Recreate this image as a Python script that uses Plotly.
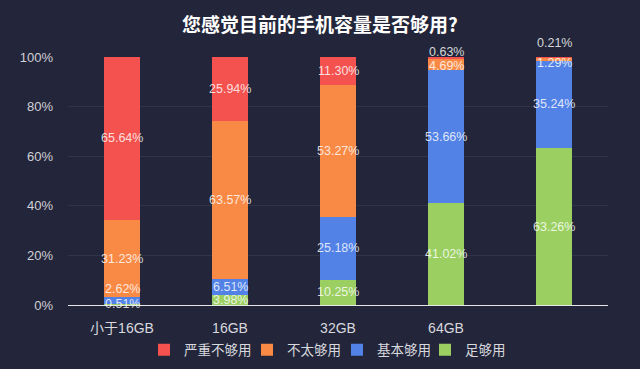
import plotly.graph_objects as go

categories = ["小于16GB", "16GB", "32GB", "64GB", " "]
series_names = ["严重不够用", "不太够用", "基本够用", "足够用"]
severe = [65.64, 25.94, 11.30, 0.63, 0.21]
not_enough = [31.23, 63.57, 53.27, 4.69, 1.29]
basic = [2.62, 6.51, 25.18, 53.66, 35.24]
enough = [0.51, 3.98, 10.25, 41.02, 63.26]
y_ticks = [0, 20, 40, 60, 80, 100]
y_tick_labels = ["0%", "20%", "40%", "60%", "80%", "100%"]

colors = {"严重不够用": "#f3524f", "不太够用": "#f88a46", "基本够用": "#5282e6", "足够用": "#9bcf62"}
BG = "#23263a"
FONT = "Liberation Sans, Noto Sans CJK SC, sans-serif"

# stacking order bottom -> top
stack = [("足够用", enough), ("基本够用", basic), ("不太够用", not_enough), ("严重不够用", severe)]
legend_ids = {"严重不够用": "legend", "不太够用": "legend2", "基本够用": "legend3", "足够用": "legend4"}
legend_x = {"legend": 164, "legend2": 267, "legend3": 357, "legend4": 445}  # symbol centre, px

fig = go.Figure()
for name, vals in stack:
    fig.add_trace(go.Bar(
        x=categories, y=vals, name=name,
        marker=dict(color=colors[name], line=dict(width=0)),
        legend=legend_ids[name],
        hovertemplate="%{x} " + name + ": %{y:.2f}%<extra></extra>",
    ))

# label nudges (pixels) for crowded tiny segments
nudge = {("基本够用", 0): 11, ("严重不够用", 3): 6, ("不太够用", 3): -2,
         ("严重不够用", 4): 14, ("不太够用", 4): -4}

annotations = []
cum = [0.0] * len(categories)
for name, vals in stack:
    for i, v in enumerate(vals):
        mid = cum[i] + v / 2
        cum[i] += v
        annotations.append(dict(
            x=categories[i], y=mid, xref="x", yref="y",
            text=f"{v:.2f}%", showarrow=False,
            yshift=nudge.get((name, i), 0),
            font=dict(family=FONT, size=12.5, color="rgba(255,255,255,0.82)"),
        ))

legend_common = dict(orientation="h", xref="container", yref="container",
                     xanchor="left", yanchor="middle", y=1 - 350 / 369,
                     font=dict(family=FONT, size=13.5, color="#d8d8de"),
                     itemwidth=30, bgcolor="rgba(0,0,0,0)", borderwidth=0)
legends = {}
for lid, px in legend_x.items():
    legends[lid] = dict(legend_common, x=(px - 20) / 640)

fig.update_layout(
    width=640, height=369,
    paper_bgcolor=BG, plot_bgcolor=BG,
    margin=dict(l=68, r=32, t=57, b=64, autoexpand=False),
    barmode="stack", bargap=0.66,
    font=dict(family=FONT, color="#d8d8de", size=13),
    title=dict(text="<b>您感觉目前的手机容量是否够用?</b>", x=0.5, xanchor="center",
               y=1 - 25 / 369, yanchor="middle",
               font=dict(family="Noto Sans CJK SC", size=19, color="#ffffff")),
    annotations=annotations,
    showlegend=True,
    xaxis=dict(showgrid=False, showline=True, linecolor="#e6e6ea", linewidth=1.2,
               ticks="", ticklabelstandoff=10, tickfont=dict(size=14, color="#d8d8de"),
               fixedrange=True),
    yaxis=dict(range=[0, 100], tickvals=y_ticks, ticktext=y_tick_labels,
               showgrid=True, gridcolor="#2f3448", gridwidth=1, zeroline=False,
               ticks="", ticklabelstandoff=14, tickfont=dict(size=13, color="#d0d0d6"),
               fixedrange=True),
    **legends,
)

post = ("document.body.style.margin='0';document.body.style.background='%s';"
        "document.body.style.overflow='hidden';" % BG)
fig.write_html("out.html", post_script=post, config={"displayModeBar": False})
